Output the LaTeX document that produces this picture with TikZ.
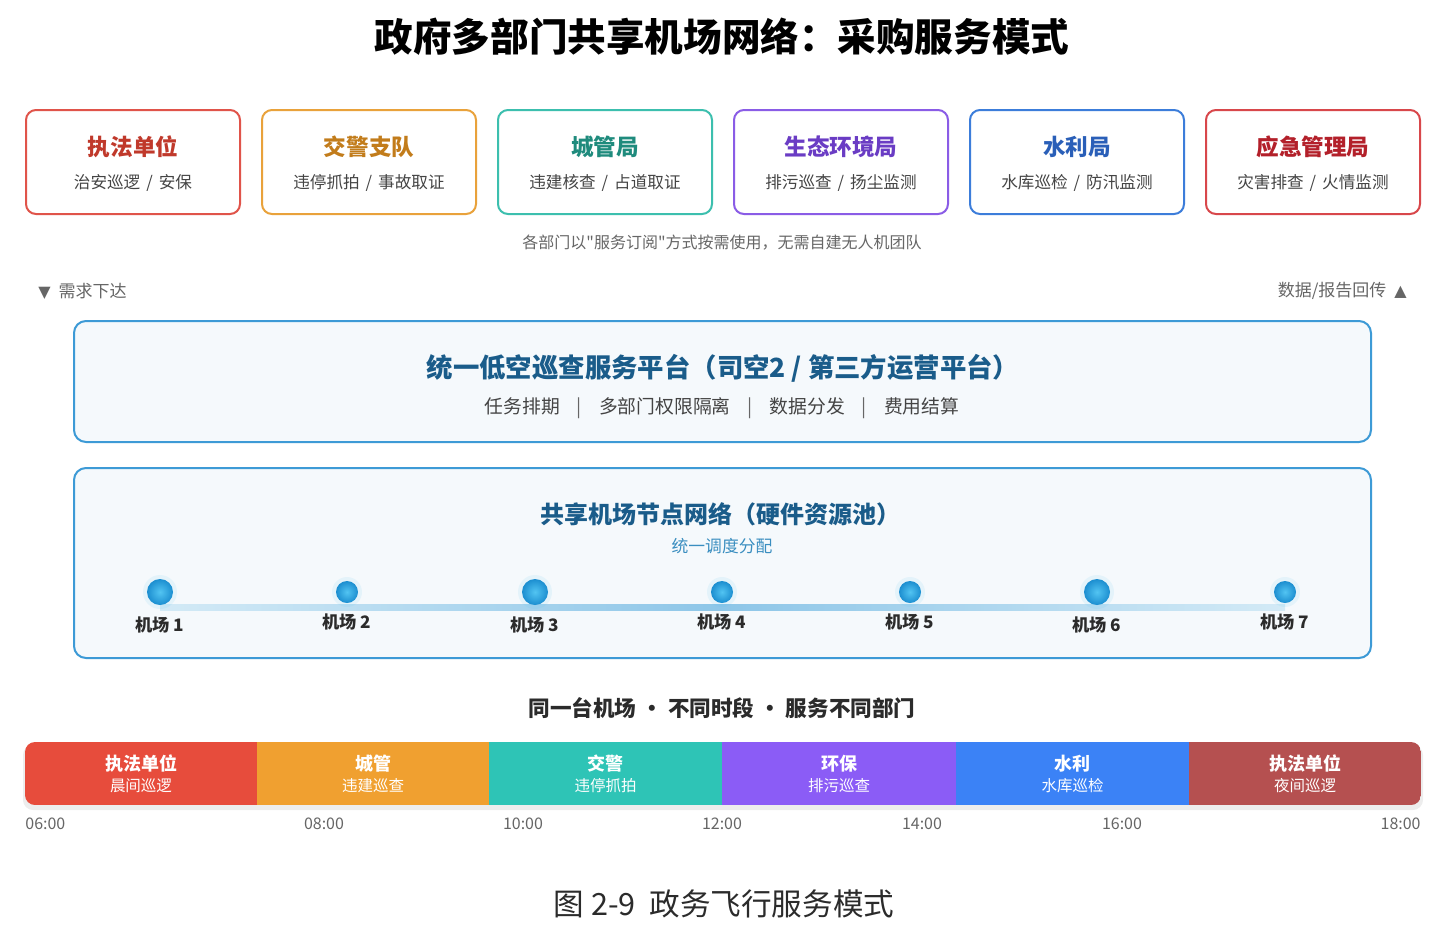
\documentclass[tikz,border=0pt]{standalone}
\usepackage{fontspec}
\setmainfont{Noto Sans CJK SC}[Ligatures=TeXOff]
\newfontfamily\symfont{DejaVu Sans}
\usepackage{tikz}
\usetikzlibrary{positioning,calc}

\definecolor{deptred}{HTML}{E0544A}
\definecolor{deptredT}{HTML}{C0392B}
\definecolor{deptorange}{HTML}{E9A23B}
\definecolor{deptorangeT}{HTML}{C27C1B}
\definecolor{deptteal}{HTML}{3CBFAE}
\definecolor{depttealT}{HTML}{1F8B7D}
\definecolor{deptpurple}{HTML}{8A5CE6}
\definecolor{deptpurpleT}{HTML}{6A3CC4}
\definecolor{deptblue}{HTML}{3C7DDA}
\definecolor{deptblueT}{HTML}{2A5FB8}
\definecolor{deptcrimson}{HTML}{D8474B}
\definecolor{deptcrimsonT}{HTML}{B3202A}
\definecolor{platline}{HTML}{3D9AD6}
\definecolor{platfill}{HTML}{F5F9FC}
\definecolor{plattitle}{HTML}{1A5C8A}
\definecolor{platsub}{HTML}{3A8EC0}
\definecolor{subgray}{HTML}{444444}
\definecolor{notegray}{HTML}{666666}
\definecolor{darktxt}{HTML}{2B2B2B}
\definecolor{hubin}{HTML}{52C4F2}
\definecolor{hubout}{HTML}{1C8ED0}
\definecolor{linklight}{HTML}{D3EAF6}
\definecolor{linkdark}{HTML}{8DC6E8}
\definecolor{segA}{HTML}{E74C3C}
\definecolor{segB}{HTML}{F0A030}
\definecolor{segC}{HTML}{2EC4B6}
\definecolor{segD}{HTML}{8B5CF6}
\definecolor{segE}{HTML}{3B82F6}
\definecolor{segF}{HTML}{B55050}

\newcommand{\slsep}{\hspace{3pt}/\hspace{3pt}}
\newcommand{\barsep}{\hspace{8.5pt}{\color{notegray}|}\hspace{8.5pt}}

\begin{document}
\begin{tikzpicture}[x=0.5pt,y=-0.5pt,
    card/.style={draw,line width=1pt,rounded corners=5pt,fill=white,
      minimum width=107pt,minimum height=52pt},
    depttitle/.style={font=\fontsize{11.3pt}{13pt}\selectfont\bfseries},
    deptsub/.style={font=\fontsize{8.3pt}{10pt}\selectfont,text=subgray},
    panel/.style={draw=platline,line width=1pt,fill=platfill,
      rounded corners=6pt,minimum width=648.5pt},
    hub/.style={circle,inner sep=0pt,inner color=hubin,outer color=hubout},
    hublabel/.style={font=\fontsize{8.6pt}{10pt}\selectfont\bfseries,text=darktxt},
    segtitle/.style={font=\fontsize{9pt}{11pt}\selectfont\bfseries,text=white},
    segsub/.style={font=\fontsize{7.75pt}{9pt}\selectfont,text=white},
    clock/.style={font=\fontsize{8pt}{9pt}\selectfont,text=notegray,inner sep=0pt}]

  \useasboundingbox (0,0) rectangle (1432,934);
  \fill[white] (0,0) rectangle (1432,934);

  % title
  \node[font=\fontsize{19.3pt}{22pt}\selectfont\bfseries,text=black] (title) at (722,37)
    {政府多部门共享机场网络：采购服务模式};

  % departments
  \foreach \i/\t/\s/\bc/\tc in {
      1/执法单位/{治安巡逻\slsep 安保}/deptred/deptredT,
      2/交警支队/{违停抓拍\slsep 事故取证}/deptorange/deptorangeT,
      3/城管局/{违建核查\slsep 占道取证}/deptteal/depttealT,
      4/生态环境局/{排污巡查\slsep 扬尘监测}/deptpurple/deptpurpleT,
      5/水利局/{水库巡检\slsep 防汛监测}/deptblue/deptblueT,
      6/应急管理局/{灾害排查\slsep 火情监测}/deptcrimson/deptcrimsonT}{
    \node[card,draw=\bc] (dept\i) at ({133+236*(\i-1)},162) {};
    \node[depttitle,text=\tc] (dept\i t) at ({133+236*(\i-1)},147) {\t};
    \node[deptsub] (dept\i s) at ({133+236*(\i-1)},183) {\s};
  }

  \node[font=\fontsize{8pt}{9pt}\selectfont,text=notegray] (note) at (722,243)
    {各部门以"服务订阅"方式按需使用，无需自建无人机团队};

  \node[font=\fontsize{8.5pt}{10pt}\selectfont,text=notegray,anchor=west,inner sep=0pt] (down) at (38,291)
    {{\symfont\fontsize{8pt}{9pt}\selectfont ▼}\hspace{2pt} 需求下达};
  \node[font=\fontsize{8.5pt}{10pt}\selectfont,text=notegray,anchor=east,inner sep=0pt] (up) at (1407,291)
    {数据/报告回传\hspace{2pt} {\symfont\fontsize{8pt}{9pt}\selectfont ▲}};

  % platform
  \node[panel,minimum height=60.5pt] (platform) at (722.5,381.5) {};
  \node[font=\fontsize{13.2pt}{15pt}\selectfont\bfseries,text=plattitle] (platt) at (723,368)
    {统一低空巡查服务平台（司空2 / 第三方运营平台）};
  \node[font=\fontsize{9.4pt}{11pt}\selectfont,text=subgray] (plats) at (722,408)
    {任务排期\barsep 多部门权限隔离\barsep 数据分发\barsep 费用结算};

  % airport network
  \node[panel,minimum height=95pt] (network) at (722.5,563) {};
  \node[font=\fontsize{12pt}{14pt}\selectfont\bfseries,text=plattitle] (nett) at (720,514)
    {共享机场节点网络（硬件资源池）};
  \node[font=\fontsize{8.4pt}{10pt}\selectfont,text=platsub] (nets) at (722,546) {统一调度分配};

  \shade[left color=linklight,right color=linklight,middle color=linkdark]
    (160,604) rectangle (1285,610);

  \foreach \i/\x/\r/\ly in {1/160/13/625,2/347/11/622,3/535/13/625,4/722/11/622,
      5/910/11/622,6/1097/13/625,7/1285/11/622}{
    \fill[hubin,opacity=0.1] (\x,592) circle[radius={(\r+4)*0.5pt}];
    \node[hub,minimum size={\r*1pt}] (hub\i) at (\x,592) {};
    \node[hublabel] (hub\i l) at (\x,\ly) {机场 \i};
  }

  % timeline
  \node[font=\fontsize{10.8pt}{12pt}\selectfont\bfseries,text=darktxt] (slots) at (722,708)
    {同一台机场 · 不同时段 · 服务不同部门};

  \fill[black,opacity=0.07,rounded corners=5pt] (23,745) rectangle (1423,810);
  \begin{scope}
    \clip[rounded corners=5pt] (25,742) rectangle (1421,805);
    \foreach \a/\b/\c in {25/257/segA,257/489/segB,489/722/segC,
        722/956/segD,956/1189/segE,1189/1421/segF}
      \fill[\c] (\a,742) rectangle (\b,805);
  \end{scope}

  \foreach \i/\x/\t/\s in {1/141/执法单位/晨间巡逻,2/373/城管/违建巡查,3/605.5/交警/违停抓拍,
      4/839/环保/排污巡查,5/1072.5/水利/水库巡检,6/1305/执法单位/夜间巡逻}{
    \node[segtitle] (seg\i) at (\x,764) {\t};
    \node[segsub] (seg\i s) at (\x,786) {\s};
  }

  \node[clock,anchor=west] (t06) at (25,824) {06:00};
  \foreach \x/\t in {324/08:00,523/10:00,722/12:00,922/14:00,1122/16:00}
    \node[clock] (t\t) at (\x,824) {\t};
  \node[clock,anchor=east] (t18) at (1421,824) {18:00};

  % caption
  \node[font=\fontsize{15.3pt}{17pt}\selectfont,text=darktxt] (caption) at (724,904)
    {图 2-9\ \ 政务飞行服务模式};
\end{tikzpicture}
\end{document}
